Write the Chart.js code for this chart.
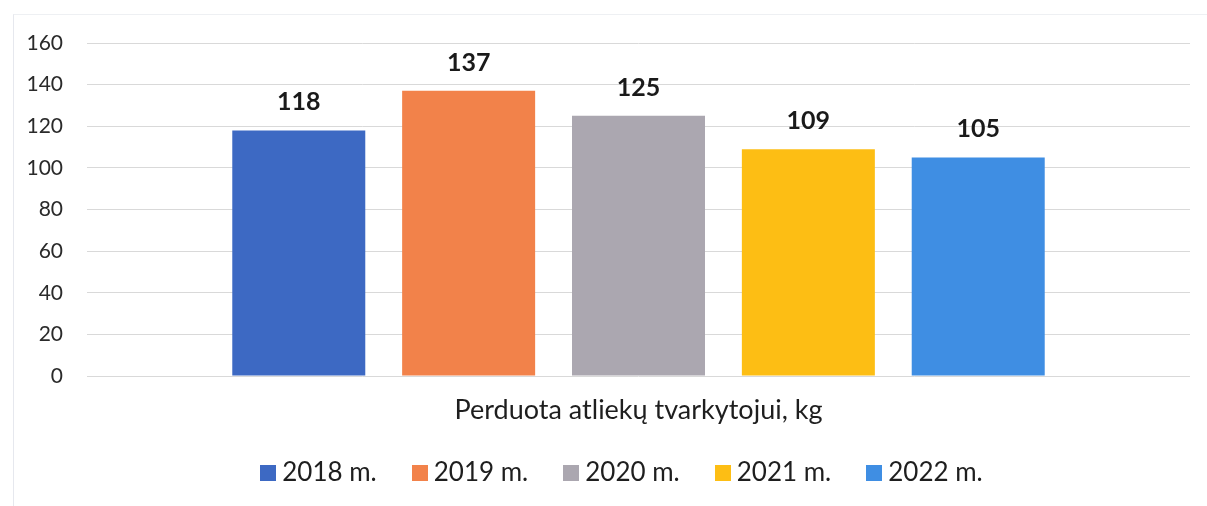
<!DOCTYPE html>
<html>
<head>
<meta charset="utf-8">
<script src="https://cdn.jsdelivr.net/npm/chart.js@4"></script>
<style>
    html, body { margin: 0; padding: 0; background: #fff; }
    #wrap { position: relative; width: 1207px; height: 506px; }
    #frame {
        position: absolute; left: 13px; top: 14px; right: 0; bottom: 0;
        border-left: 1px solid #e6e8ee; border-top: 1px solid #eef0f3;
        pointer-events: none;
    }
    #legend {
        position: absolute; left: 18px; top: 456px; width: 1207px;
        display: flex; justify-content: center; gap: 35px;
        font-family: Lato, sans-serif; font-size: 26px; line-height: 31px; color: #1e1e1e;
    }
    #legend .item { display: flex; align-items: center; }
    #legend .box { width: 16px; height: 16px; margin-right: 6px; margin-top: 3px; }
</style>
</head>
<body>
<div id="wrap">
    <canvas id="wasteChart" width="1207" height="506"></canvas>
    <div id="frame"></div>
    <div id="legend"></div>
</div>
<script>
const categories = ['Perduota atliekų tvarkytojui, kg'];
const years = ['2018 m.', '2019 m.', '2020 m.', '2021 m.', '2022 m.'];
const values = [118, 137, 125, 109, 105];
const colors = ['#3d69c3', '#f2824a', '#aba7b0', '#fdbe14', '#3f8ee3'];
const yTicks = [0, 20, 40, 60, 80, 100, 120, 140, 160];

// draws the value above each bar
const valueLabels = {
    id: 'valueLabels',
    afterDatasetsDraw(chart) {
        const ctx = chart.ctx;
        ctx.save();
        ctx.font = 'bold 25px Lato, sans-serif';
        ctx.fillStyle = '#1a1a1a';
        ctx.textAlign = 'center';
        ctx.textBaseline = 'alphabetic';
        chart.data.datasets.forEach((ds, i) => {
            const bar = chart.getDatasetMeta(i).data[0];
            ctx.fillText(ds.data[0], bar.x, bar.y - 20);
        });
        ctx.restore();
    }
};

document.addEventListener('DOMContentLoaded', function() {
    const ctx = document.getElementById('wasteChart');

    new Chart(ctx, {
        type: 'bar',
        data: {
            labels: categories,
            datasets: years.map((year, i) => ({
                label: year,
                data: [values[i]],
                backgroundColor: colors[i],
                borderWidth: 0,
                barPercentage: 0.783,
                categoryPercentage: 0.77
            }))
        },
        options: {
            responsive: false,
            animation: false,
            layout: { padding: { top: 43, right: 17, bottom: 60, left: 0 } },
            plugins: {
                legend: { display: false },
                tooltip: { enabled: false }
            },
            scales: {
                x: {
                    grid: { display: false },
                    border: { display: false },
                    ticks: {
                        padding: 10,
                        color: '#1e1e1e',
                        font: { family: 'Lato, sans-serif', size: 27 }
                    },
                    afterFit: (scale) => { scale.height = 70; }
                },
                y: {
                    min: 0,
                    max: 160,
                    afterBuildTicks: (scale) => { scale.ticks = yTicks.map(v => ({ value: v })); },
                    grid: { color: '#d9d9d9', lineWidth: 1, drawTicks: false },
                    border: { display: false },
                    ticks: {
                        padding: 24,
                        color: '#2a2a2a',
                        font: { family: 'Lato, sans-serif', size: 21 }
                    },
                    afterFit: (scale) => { scale.width = 87; }
                }
            }
        },
        plugins: [valueLabels]
    });

    // legend below the chart
    const legend = document.getElementById('legend');
    years.forEach((year, i) => {
        const item = document.createElement('div');
        item.className = 'item';
        item.innerHTML = `<span class="box" style="background:${colors[i]}"></span><span>${year}</span>`;
        legend.appendChild(item);
    });
});
</script>
</body>
</html>
